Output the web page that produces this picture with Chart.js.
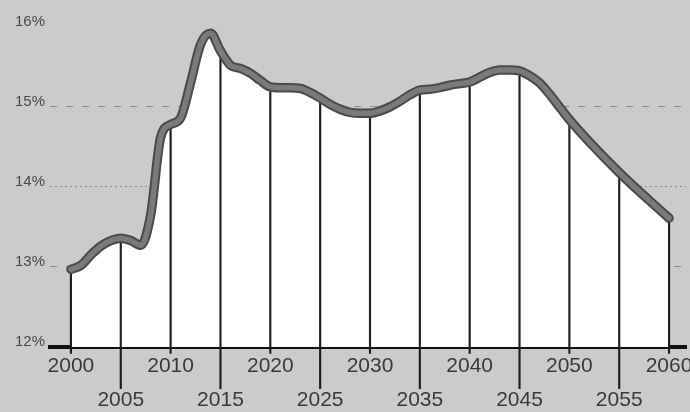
<!DOCTYPE html>
<html lang="en">
<head>
<meta charset="UTF-8">
<title>Share 2000-2060</title>
<script src="https://cdn.jsdelivr.net/npm/chart.js"></script>
<style>
  html, body { margin: 0; padding: 0; background: #cbcbcb; }
  #wrap { width: 690px; height: 412px; }
</style>
</head>
<body>
<div id="wrap"><canvas id="shareChart"></canvas></div>
<script>
// values (percent)
const years = [2000, 2001, 2002, 2003, 2004, 2005, 2006, 2007, 2008, 2009,
               2010, 2011, 2012, 2013, 2014, 2015, 2016, 2017, 2018, 2019,
               2020, 2021, 2022, 2023, 2024, 2025, 2026, 2027, 2028, 2029,
               2030, 2031, 2032, 2033, 2034, 2035, 2036, 2037, 2038, 2039,
               2040, 2041, 2042, 2043, 2044, 2045, 2046, 2047, 2048, 2049,
               2050, 2055, 2060];
const shares = [12.97, 13.02, 13.15, 13.26, 13.33, 13.36, 13.33, 13.27, 13.65, 14.62,
                14.78, 14.86, 15.30, 15.78, 15.92, 15.70, 15.52, 15.48, 15.42, 15.33,
                15.25, 15.24, 15.24, 15.23, 15.18, 15.11, 15.03, 14.97, 14.93, 14.92,
                14.92, 14.95, 15.00, 15.07, 15.15, 15.21, 15.22, 15.24, 15.27, 15.29,
                15.31, 15.37, 15.43, 15.46, 15.46, 15.45, 15.39, 15.30, 15.16, 15.00,
                14.84, 14.18, 13.61];
const tickYears = [2000, 2005, 2010, 2015, 2020, 2025, 2030, 2035, 2040, 2045, 2050, 2055, 2060];
const yTicks = [12, 13, 14, 15, 16];

const points = years.map((y, i) => ({ x: y, y: shares[i] }));
// year lines: from below the axis up to the curve
const yearLines = tickYears.map(y => ({
  x: y,
  y: [y % 10 === 0 ? 11.92 : 11.48, shares[years.indexOf(y)]]
}));

const ctx = document.getElementById('shareChart').getContext('2d');
new Chart(ctx, {
  data: {
    datasets: [
      {
        type: 'line',
        data: points,
        borderColor: '#7a7a7a',
        borderWidth: 5.5,
        pointRadius: 0,
        fill: false,
        cubicInterpolationMode: 'monotone',
        borderCapStyle: 'round',
        order: 0
      },
      {
        type: 'line',
        data: points,
        borderColor: '#4a4a4a',
        borderWidth: 9.5,
        pointRadius: 0,
        fill: 'start',
        backgroundColor: '#ffffff',
        cubicInterpolationMode: 'monotone',
        borderCapStyle: 'round',
        order: 1
      },
      {
        type: 'bar',
        data: yearLines,
        backgroundColor: '#1e1e1e',
        barThickness: 1.5,
        clip: false,
        order: 2
      }
    ]
  },
  options: {
    responsive: true,
    maintainAspectRatio: false,
    animation: false,
    layout: { padding: { top: 2, right: 4, left: 0, bottom: 0 } },
    plugins: {
      legend: { display: false },
      tooltip: { enabled: false },
      filler: { drawTime: 'beforeDatasetsDraw' }
    },
    scales: {
      x: {
        type: 'linear',
        offset: false,
        min: 1997.9,
        max: 2061.7,
        afterBuildTicks: s => { s.ticks = tickYears.map(v => ({ value: v })); },
        afterFit: s => { s.height = 65; s.paddingLeft = 0; s.paddingRight = 0; },
        grid: { display: false, drawTicks: false },
        border: { display: true, color: '#111111', width: 4 },
        ticks: {
          padding: 2,
          autoSkip: false,
          maxRotation: 0,
          color: '#3a3a3a',
          font: { family: 'Liberation Sans', size: 21, lineHeight: 1.62 },
          callback: v => v % 10 === 0 ? String(v) : ['', String(v)]
        }
      },
      y: {
        min: 12,
        max: 16.31,
        z: 1,
        afterBuildTicks: s => { s.ticks = yTicks.map(v => ({ value: v })); },
        afterFit: s => { s.width = 50; s.paddingTop = 0; s.paddingBottom = 0; },
        grid: {
          drawTicks: false,
          lineWidth: 1,
          color: c => (c.tick && [13, 14, 15].includes(c.tick.value)) ? '#8c8c8c' : 'rgba(0,0,0,0)'
        },
        border: {
          display: false,
          dash: c => (c.tick && c.tick.value === 14) ? [2, 3] : [7, 9]
        },
        ticks: {
          padding: 5,
          labelOffset: -5,
          color: '#4a4a4a',
          font: { family: 'Liberation Sans', size: 15 },
          callback: v => v + '%'
        }
      }
    }
  }
});
</script>
</body>
</html>
